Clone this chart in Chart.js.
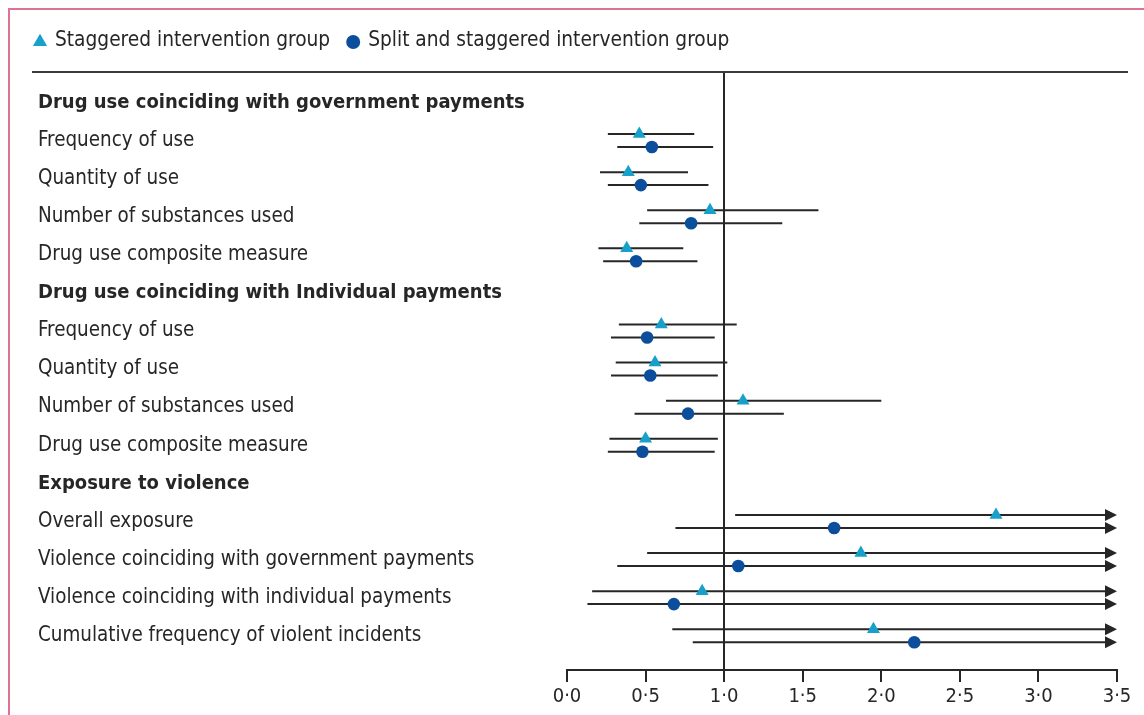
<!DOCTYPE html>
<html>
<head>
<meta charset="utf-8">
<script src="https://cdn.jsdelivr.net/npm/chart.js@4.4.1/dist/chart.umd.min.js"></script>
<style>
  html, body { margin: 0; padding: 0; background: #fff; }
  #wrap { width: 1144px; height: 715px; position: relative; }
</style>
</head>
<body>
<div id="wrap"><canvas id="forest"></canvas></div>
<script>
// rows top to bottom, section headers included
const rowLabels = [
  'Drug use coinciding with government payments',
  'Frequency of use',
  'Quantity of use',
  'Number of substances used',
  'Drug use composite measure',
  'Drug use coinciding with Individual payments',
  'Frequency of use',
  'Quantity of use',
  'Number of substances used',
  'Drug use composite measure',
  'Exposure to violence',
  'Overall exposure',
  'Violence coinciding with government payments',
  'Violence coinciding with individual payments',
  'Cumulative frequency of violent incidents'
];
const headerRows = [0, 5, 10];

// Infinity = upper limit runs off the axis (drawn as an arrow)
const stagEst = [null, 0.46, 0.39, 0.91, 0.38, null, 0.60, 0.56, 1.12, 0.50, null, 2.73, 1.87, 0.86, 1.95];
const stagLo  = [null, 0.26, 0.21, 0.51, 0.20, null, 0.33, 0.31, 0.63, 0.27, null, 1.07, 0.51, 0.16, 0.67];
const stagHi  = [null, 0.81, 0.77, 1.60, 0.74, null, 1.08, 1.02, 2.00, 0.96, null, Infinity, Infinity, Infinity, Infinity];

const splitEst = [null, 0.54, 0.47, 0.79, 0.44, null, 0.51, 0.53, 0.77, 0.48, null, 1.70, 1.09, 0.68, 2.21];
const splitLo  = [null, 0.32, 0.26, 0.46, 0.23, null, 0.28, 0.28, 0.43, 0.26, null, 0.69, 0.32, 0.13, 0.80];
const splitHi  = [null, 0.93, 0.90, 1.37, 0.83, null, 0.94, 0.96, 1.38, 0.94, null, Infinity, Infinity, Infinity, Infinity];

const xTicks = [0, 0.5, 1, 1.5, 2, 2.5, 3, 3.5];

const FONT = "'Liberation Sans Narrow', 'DejaVu Sans Condensed', 'Liberation Sans', sans-serif";
const INK = '#262626';
const TRI = '#17a0c9';
const DOT = '#0b4f9c';
const SHIFT = 0.17; // the two groups sit just above / below the row line

function points(est, lo, hi, dir) {
  const out = [];
  est.forEach((v, i) => {
    if (v !== null) out.push({ x: v, y: i + dir * SHIFT, lo: lo[i], hi: hi[i] });
  });
  return out;
}

// confidence interval whiskers, with arrow heads when they leave the axis
const ciLines = {
  id: 'ciLines',
  beforeDatasetsDraw(chart) {
    const { ctx, scales: { x, y } } = chart;
    ctx.save();
    ctx.strokeStyle = INK;
    ctx.fillStyle = INK;
    ctx.lineWidth = 2;
    chart.data.datasets.forEach(ds => {
      ds.data.forEach(p => {
        const py = y.getPixelForValue(p.y);
        const open = p.hi > x.max;
        const x0 = x.getPixelForValue(p.lo);
        const x1 = x.getPixelForValue(open ? x.max : p.hi);
        ctx.beginPath();
        ctx.moveTo(x0, py);
        ctx.lineTo(open ? x1 - 6 : x1, py);
        ctx.stroke();
        if (open) {
          ctx.beginPath();
          ctx.moveTo(x1, py);
          ctx.lineTo(x1 - 12, py - 6);
          ctx.lineTo(x1 - 12, py + 6);
          ctx.closePath();
          ctx.fill();
        }
      });
    });
    ctx.restore();
  }
};

// page frame, top rule and the one-line legend
const frame = {
  id: 'frame',
  afterDraw(chart) {
    const { ctx, chartArea } = chart;
    ctx.save();
    ctx.strokeStyle = '#dc7391';
    ctx.lineWidth = 2;
    ctx.beginPath();
    ctx.moveTo(9, 715);
    ctx.lineTo(9, 9);
    ctx.lineTo(1144, 9);
    ctx.stroke();

    ctx.strokeStyle = '#3a3a3a';
    ctx.lineWidth = 2;
    ctx.beginPath();
    ctx.moveTo(32, chartArea.top);
    ctx.lineTo(1128, chartArea.top);
    ctx.stroke();

    ctx.font = '20.7px ' + FONT;
    ctx.textBaseline = 'middle';
    let cx = 40;
    chart.data.datasets.forEach(ds => {
      ctx.fillStyle = ds.backgroundColor;
      Chart.helpers.drawPoint(ctx, { pointStyle: ds.pointStyle, radius: ds.pointRadius + 0.7, borderWidth: 0 }, cx, 42);
      ctx.fillStyle = INK;
      ctx.fillText(ds.label, cx + 15, 41);
      cx += 15 + ctx.measureText(ds.label).width + 23;
    });
    ctx.restore();
  }
};

new Chart(document.getElementById('forest'), {
  type: 'scatter',
  plugins: [ciLines, frame],
  data: {
    datasets: [
      {
        label: 'Staggered intervention group',
        data: points(stagEst, stagLo, stagHi, -1),
        pointStyle: 'triangle',
        pointRadius: 7.5,
        backgroundColor: TRI,
        borderWidth: 0,
      },
      {
        label: 'Split and staggered intervention group',
        data: points(splitEst, splitLo, splitHi, 1),
        pointStyle: 'circle',
        pointRadius: 6.3,
        backgroundColor: DOT,
        borderWidth: 0,
      },
    ]
  },
  options: {
    responsive: true,
    maintainAspectRatio: false,
    animation: false,
    events: [],
    layout: { padding: { top: 72, left: 38, right: 27, bottom: 0 } },
    plugins: {
      legend: { display: false },
      tooltip: { enabled: false },
    },
    scales: {
      x: {
        type: 'linear',
        min: 0,
        max: 3.5,
        afterBuildTicks: s => { s.ticks = xTicks.map(v => ({ value: v })); },
        afterFit: s => { s.height = 45; },
        grid: {
          color: c => (c.tick && c.tick.value === 1 ? INK : 'rgba(0,0,0,0)'),
          lineWidth: 2,
          tickColor: INK,
          tickWidth: 2,
          tickLength: 12,
        },
        border: { display: true, color: INK, width: 2 },
        ticks: {
          color: INK,
          padding: 3,
          font: { family: FONT, size: 20 },
          callback: v => v.toFixed(1).replace('.', '\u00B7'),
        },
      },
      y: {
        type: 'linear',
        reverse: true,
        min: -0.8,
        max: 14.9,
        afterBuildTicks: s => { s.ticks = rowLabels.map((_, i) => ({ value: i })); },
        afterFit: s => { s.width = 529; },
        grid: { display: false, drawTicks: false },
        border: { display: false },
        ticks: {
          crossAlign: 'far',
          padding: 0,
          autoSkip: false,
          color: INK,
          font: c => (headerRows.includes(c.index)
            ? { family: FONT, size: 20, weight: 'bold' }
            : { family: FONT, size: 20.4, weight: 'normal' }),
          callback: v => rowLabels[v],
        },
      },
    },
  },
});
</script>
</body>
</html>
